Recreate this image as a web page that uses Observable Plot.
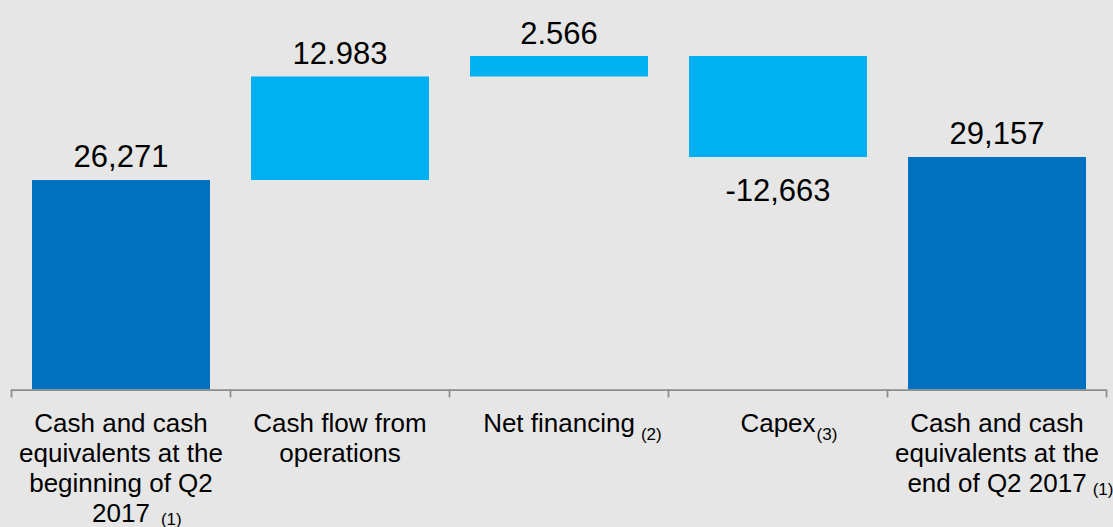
<!DOCTYPE html>
<html><head><meta charset="utf-8">
<script src="https://cdn.jsdelivr.net/npm/d3@7"></script>
<script src="https://cdn.jsdelivr.net/npm/@observablehq/plot@0.6"></script>
<style>
html,body{margin:0;padding:0;background:#e6e6e6;}
#chart svg{display:block;}
</style></head><body><div id="chart"></div>
<script>
// ---- data ----
const categories = [
  "Cash and cash\nequivalents at the\nbeginning of Q2\n2017",
  "Cash flow from\noperations",
  "Net financing",
  "Capex",
  "Cash and cash\nequivalents at the\nend of Q2 2017"
];
const values = [26271, 12983, 2566, -12663, 29157];
const kinds = ["total", "delta", "delta", "delta", "total"];
const valueLabels = ["26,271", "12.983", "2.566", "-12,663", "29,157"];
const footnotes = [
  {category: 0, line: 3, note: "(1)"},
  {category: 2, line: 0, note: "(2)"},
  {category: 3, line: 0, note: "(3)"},
  {category: 4, line: 2, note: "(1)"}
];

// ---- build waterfall steps ----
let run = 0;
const steps = values.map((v, i) => {
  let y1, y2;
  if (kinds[i] === "total") { y1 = 0; y2 = v; run = v; }
  else { y1 = run; y2 = run + v; run = y2; }
  return {i, kind: kinds[i], value: v, label: valueLabels[i],
          y1, y2, top: Math.max(y1, y2), bottom: Math.min(y1, y2)};
});

// ---- styles ----
const font = '"Liberation Sans", Arial, Helvetica, sans-serif';
const axisColor = "#8c8c8c";
const catSize = 26, lineStep = 30, catDy = 21;
const noteSize = 17;
const noteGap = [11, 6, 1, 6];
const noteDrop = [2.5, 8, 8, 2.5];

const ctx = document.createElement("canvas").getContext("2d");
ctx.font = `${catSize}px "Liberation Sans"`;

const noteMarks = footnotes.map((f, k) => {
  const line = categories[f.category].split("\n")[f.line];
  const w = ctx.measureText(line).width;
  const baseline = catDy + 0.71 * lineStep + f.line * lineStep;
  return Plot.text([f], {
    x: d => d.category + 0.5, frameAnchor: "bottom",
    text: "note", textAnchor: "start", lineAnchor: "bottom",
    dx: w / 2 + noteGap[k], dy: baseline + noteDrop[k],
    fontSize: noteSize, fill: "#000"
  });
});

const chart = Plot.plot({
  width: 1113, height: 527,
  marginTop: 56, marginBottom: 137.5, marginLeft: 11, marginRight: 7,
  x: {domain: [0, categories.length]},
  y: {domain: [0, d3.max(steps, d => d.top)], axis: null},
  color: {domain: ["total", "delta"], range: ["#0070c0", "#00b0f0"]},
  style: {background: "#e6e6e6", fontFamily: font, color: "#000", overflow: "visible"},
  marks: [
    Plot.rectY(steps, {x1: d => d.i, x2: d => d.i + 1, y1: "y1", y2: "y2",
      fill: "kind", insetLeft: 21, insetRight: 20}),
    Plot.ruleY([0], {x1: 0, x2: categories.length, stroke: axisColor, strokeWidth: 1.75}),
    Plot.axisX({ticks: d3.range(categories.length + 1), tickSize: 8,
      tickFormat: () => "", stroke: axisColor, strokeWidth: 1.75, label: null}),
    Plot.text(steps.filter(d => d.value >= 0), {x: d => d.i + 0.5, y: "top",
      text: "label", lineAnchor: "bottom", dy: -13, fontSize: 31, fill: "#000"}),
    Plot.text(steps.filter(d => d.value < 0), {x: d => d.i + 0.5, y: "bottom",
      text: "label", lineAnchor: "top", dy: 22, fontSize: 31, fill: "#000"}),
    Plot.text(categories, {x: (d, i) => i + 0.5, frameAnchor: "bottom",
      text: d => d, lineAnchor: "top", dy: catDy, lineHeight: lineStep / catSize,
      fontSize: catSize, fill: "#000"}),
    ...noteMarks
  ]
});
document.getElementById("chart").appendChild(chart);
</script>
</body></html>
